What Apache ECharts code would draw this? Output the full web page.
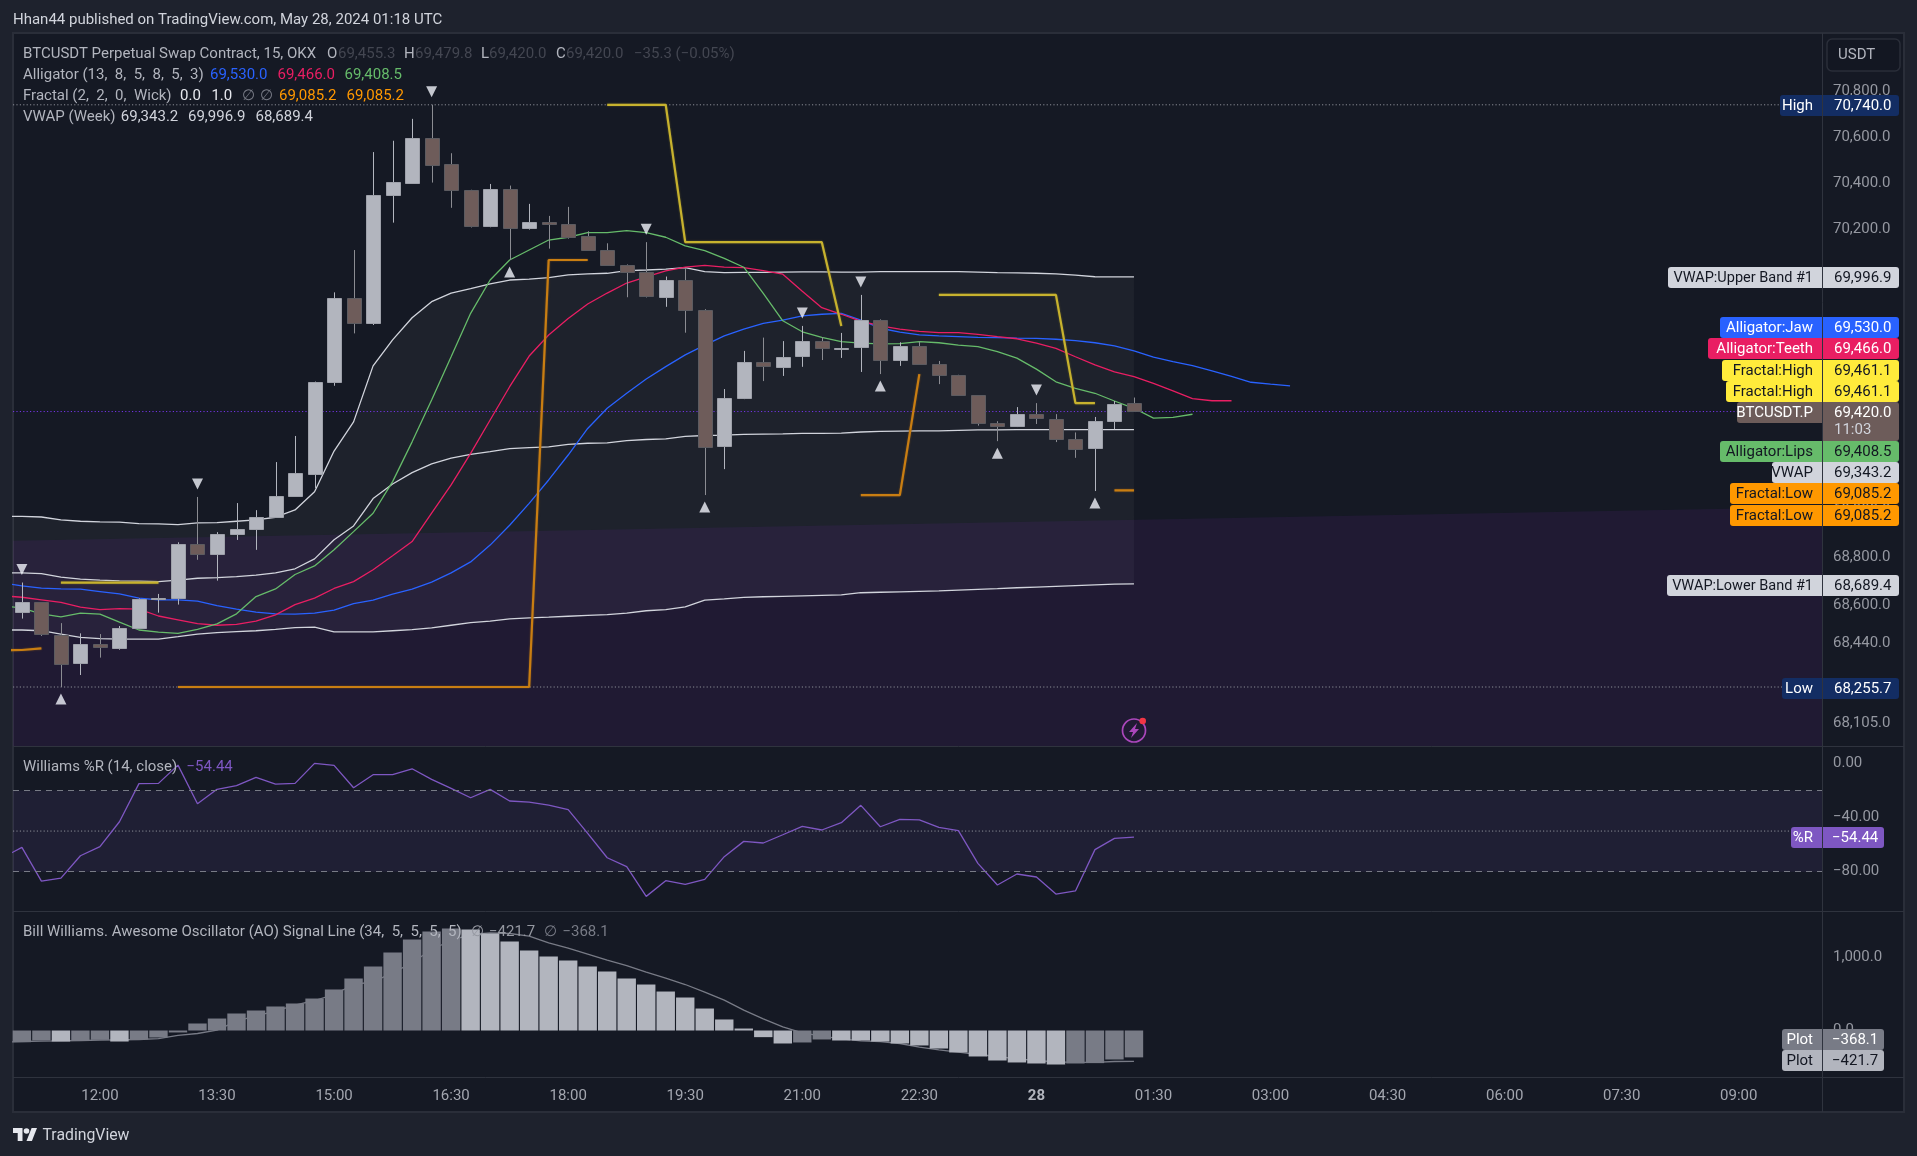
<!DOCTYPE html>
<html>
<head>
<meta charset="utf-8">
<title>BTCUSDT 15</title>
<style>
html, body { margin: 0; padding: 0; background: #1e222d; overflow: hidden; }
#main { width: 1917px; height: 1156px; }
</style>
<script src="https://cdn.jsdelivr.net/npm/echarts@6/dist/echarts.min.js"></script>
</head>
<body>
<div id="main"></div>
<script>
// bars are 15 minutes, time is minutes from 27 May 00:00
var firstBar = 660;
var barStep = 15;

var candleOpen = [68568,68612,68476,68355,68435,68421,68502,68628,68627,68857,68813,68898,68920,68970,69059,69155,69544,69904,69797,70348,70402,70595,70482,70370,70213,70374,70204,70232,70224,70171,70111,70046,70016,69911,69983,69856,69270,69475,69630,69611,69654,69720,69690,69693,69810,69637,69699,69622,69575,69489,69370,69356,69408,69389,69304,69262,69378,69455.3];
var candleClose = [68612,68477,68355,68435,68422,68503,68625,68630,68857,68813,68899,68920,68971,69060,69157,69545,69904,69797,70348,70404,70595,70480,70368,70213,70374,70204,70232,70222,70169,70111,70046,70016,69911,69983,69855,69270,69476,69630,69611,69652,69720,69688,69693,69810,69639,69699,69622,69575,69489,69370,69356,69408,69389,69304,69262,69378,69451,69420];
var candleHigh = [68695,68612,68524,68481,68478,68512,68628,68647,68865,69057,68908,69031,69001,69205,69316,69548,69930,70112,70535,70584,70679,70740,70530,70372,70397,70390,70311,70259,70298,70193,70141,70050,70146,69998,70033,69858,69516,69679,69736,69721,69786,69738,69756,69919,69814,69716,69719,69636,69577,69490,69379,69439,69456,69409,69331,69397,69465,69479.8];
var candleLow = [68543,68470,68255.7,68306,68379,68412,68500,68568,68602,68791,68703,68875,68833,68968,69058,69095,69530,69754,69790,70230,70400,70403,70294,70209,70210,70069,70200,70118,70161,70108,70044,69909,69908,69868,69757,69065,69175,69473,69550,69572,69611,69640,69649,69589,69580,69615,69620,69537,69487,69360,69294,69354,69367,69290,69223,69082,69344,69420];

// the indicator lists start one bar earlier, the one cut off by the left edge
var vwapUpper = [68975,68975,68972,68960,68954,68951,68950,68944,68943,68940,68947,68948,68954,68960,68971,69002,69079,69252,69376,69615,69726,69821,69890,69927,69946,69966,69983,69987,69993,70005,70009,70012,70023,70026,70030,70036,70019,70015,70016,70016,70017,70018,70018,70017,70017,70019,70019,70019,70019,70019,70017,70015,70014,70012,70009,70004,69997,69996.9,69996.9];
var vwapBasis = [68736,68736,68733,68718,68709,68705,68702,68701,68699,68705,68713,68716,68720,68726,68736,68753,68795,68876,68934,69050,69112,69160,69197,69222,69238,69249,69262,69266,69270,69280,69285,69287,69296,69301,69304,69314,69318,69320,69323,69324,69325,69327,69327,69328,69333,69336,69337,69338,69338,69340,69342,69342,69343,69343,69343,69343,69343,69343,69343.2];
var vwapLower = [68495,68495,68492,68478,68464,68459,68457,68457,68457,68467,68478,68484,68488,68492,68498,68505,68507,68487,68487,68487,68492,68497,68504,68515,68526,68532,68542,68546,68549,68553,68557,68560,68566,68576,68581,68592,68621,68626,68632,68635,68637,68639,68641,68643,68652,68654,68656,68658,68660,68663,68666,68669,68673,68676,68679,68682,68685,68688,68689.4];
var alligatorJaw = [68694,68681,68671,68668,68667,68657,68647,68629,68622,68622,68617,68598,68583,68570,68563,68562,68566,68579,68606,68621,68646,68667,68697,68736,68782,68853,68937,69030,69129,69235,69348,69434,69498,69559,69612,69662,69704,69743,69772,69797,69811,69829,69836,69840,69811,69776,69759,69748,69743,69740,69737,69736,69734,69733,69729,69723,69714,69701,69679,69652,69633,69616,69594,69570,69545,69537,69530];
var alligatorTeeth = [68639,68633,68622,68611,68591,68581,68585,68583,68554,68538,68522,68515,68519,68532,68559,68602,68629,68670,68699,68749,68808,68868,68988,69108,69242,69384,69526,69657,69747,69818,69880,69927,69970,69997,70022,70038,70046,70038,70036,70023,70008,69935,69864,69836,69807,69786,69772,69763,69757,69757,69750,69740,69731,69712,69690,69654,69619,69589,69569,69540,69508,69475,69466,69466];
var alligatorLips = [68597,68587,68563,68550,68566,68562,68528,68495,68486,68481,68498,68521,68563,68636,68668,68729,68765,68833,68910,68988,69122,69291,69469,69654,69840,69983,70069,70112,70155,70167,70187,70187,70196,70187,70167,70130,70109,70076,70038,69926,69808,69761,69737,69719,69712,69709,69710,69719,69714,69704,69697,69676,69648,69601,69547,69519,69498,69465,69434,69392,69395,69408.5];
var fractalHighLine = [null,null,null,68695,68695,68695,68695,68695,68695,null,null,null,null,null,null,null,null,null,null,null,null,null,null,null,null,null,null,null,null,null,null,70740,70740,70740,70740,70146,70146,70146,70146,70146,70146,70146,70146,69786,null,null,null,null,69919,69919,69919,69919,69919,69919,69919,69456,69456];
var fractalLowLine = [68410,68411,68418,null,null,null,null,null,null,68255.7,68255.7,68255.7,68255.7,68255.7,68255.7,68255.7,68255.7,68255.7,68255.7,68255.7,68255.7,68255.7,68255.7,68255.7,68255.7,68255.7,68255.7,68255.7,70069,70069,70069,null,null,null,null,null,null,null,null,null,null,null,null,null,69065,69065,69065,69580,null,null,null,null,null,null,null,null,null,69085.2,69085.2];
var fractalUpBars = [2,25,35,44,50,55];
var fractalDownBars = [0,9,21,32,40,43,52];

var williamsR = [-69.7,-62.0,-86.9,-84.7,-68.2,-61.5,-43.1,-15.0,-14.8,-1.3,-29.8,-19.2,-16.5,-10.4,-15.3,-14.8,0,-1.5,-18.0,-8.4,-8.4,-4.0,-11.8,-18.5,-25.4,-19.2,-27.8,-28.6,-30.8,-34.2,-51.7,-69.7,-76.3,-98.2,-86.6,-89.3,-85.6,-68.9,-57.6,-58.8,-52.7,-46.5,-49.2,-43.8,-31.0,-46.8,-41.4,-41.8,-47.3,-49.7,-73.8,-89.8,-81.7,-83.9,-96.5,-94.2,-63.7,-55.4,-54.44];
var aoValues = [-160,-137,-151,-132,-128,-151,-123,-96,-27,96,164,233,274,329,370,438,562,712,877,1068,1247,1356,1397,1384,1329,1219,1096,1014,959,877,808,712,630,534,452,301,151,27,-91,-178,-164,-123,-137,-137,-151,-178,-205,-247,-301,-356,-411,-438,-452,-466,-452,-447,-397,-368.1];
var aoSignal = [-160,-151,-146,-142,-137,-132,-128,-123,-110,-68,-41,5,128,201,265,347,411,493,630,667,790,927,1110,1233,1315,1338,1329,1292,1200,1128,1046,963,890,799,717,630,525,416,279,160,50,-32,-78,-114,-142,-151,-178,-228,-265,-297,-329,-356,-388,-411,-429,-438,-438,-425,-421.7];

var priceTicks = [70800,70600,70400,70200,70000,69600,69400,69200,69000,68800,68600,68440,68105];
var williamsTicks = [0,-40,-80];
var aoTicks = [0,1000];
var timeTickMinutes = [720,810,900,990,1080,1170,1260,1350,1440,1530,1620,1710,1800,1890,1980];
var timeTickLabels = ['12:00','13:30','15:00','16:30','18:00','19:30','21:00','22:30','28','01:30','03:00','04:30','06:00','07:30','09:00'];
var highValue = 70740;
var lowValue = 68255.7;
var closeValue = 69420;
var purpleZoneEdge = [68871,69014];

var tagNames = ['High','VWAP:Upper Band #1','Alligator:Jaw','Alligator:Teeth','Fractal:High','Fractal:High','BTCUSDT.P','Alligator:Lips','VWAP','Fractal:Low','Fractal:Low','VWAP:Lower Band #1','Low','%R','Plot','Plot'];
var tagValues = ['70,740.0','69,996.9','69,530.0','69,466.0','69,461.1','69,461.1','69,420.0','69,408.5','69,343.2','69,085.2','69,085.2','68,689.4','68,255.7','\u221254.44','\u2212368.1','\u2212421.7'];

// where the pieces sit on the page
var FONT = 'Roboto, "Noto Sans", sans-serif';
var FS = 15;
var LEFT = 13, RIGHT = 1822, WIDTH = RIGHT - LEFT;
var BAR_PX = 19.51;
var xMin = firstBar - 8.9 / BAR_PX * barStep;
var xMax = xMin + WIDTH / BAR_PX * barStep;
var DOTS = [1.2, 2.2];

var tagBoxes = [
    [1780,95,'#132d63','#ffffff'],[1668,267,'#d1d4dc','#131722'],[1720,317,'#2962ff','#ffffff'],[1708,338,'#e91e63','#ffffff'],
    [1722,360,'#ffeb3b','#131722'],[1726,381,'#ffeb3b','#131722'],[1737,402,'#6d5c5a','#ffffff'],[1720,441,'#66bb6a','#131722'],
    [1772,462,'#d1d4dc','#131722'],[1730,483,'#ff9800','#131722'],[1730,505,'#ff9800','#131722'],[1667,575,'#d1d4dc','#131722'],
    [1782,678,'#132d63','#ffffff'],[1791,827,'#7e57c2','#ffffff'],[1782,1029,'#787b86','#ffffff'],[1782,1050,'#b2b5be','#131722']
];

function barTime(i) { return firstBar + i * barStep; }
function withTimes(list) {
    // indicator lists begin at bar -1
    return list.map(function (v, k) { return [barTime(k - 1), v]; });
}
function fmtPrice(v) {
    return v.toFixed(1).replace(/\B(?=(\d{3})+(?!\d))/g, ',');
}

function lineSeries(name, grid, data, color, width, extra) {
    var s = {
        name: name, type: 'line', xAxisIndex: grid, yAxisIndex: grid, data: data,
        symbol: 'none', silent: true, connectNulls: false, z: 3,
        lineStyle: { color: color, width: width }
    };
    return Object.assign(s, extra || {});
}
function levelLine(name, grid, value, color) {
    return lineSeries(name, grid, [[xMin, value], [xMax, value]], color, 1, {
        z: 2, lineStyle: { color: color, width: 1, type: DOTS }
    });
}

var candleData = candleOpen.map(function (o, i) {
    return [barTime(i), o, candleClose[i], candleLow[i], candleHigh[i]];
});

function renderCandle(params, api) {
    var t = api.value(0), o = api.value(1), c = api.value(2);
    var x = Math.round(api.coord([t, o])[0]) + 0.5;
    var yo = api.coord([t, o])[1], yc = api.coord([t, c])[1];
    var yl = api.coord([t, api.value(3)])[1], yh = api.coord([t, api.value(4)])[1];
    var up = c >= o;
    var top = Math.round(Math.min(yo, yc)) + 0.5;
    var h = Math.max(Math.round(Math.abs(yo - yc)), 1);
    return {
        type: 'group',
        children: [{
            type: 'line',
            shape: { x1: x, y1: yh, x2: x, y2: yl },
            style: { stroke: up ? '#b2b5be' : '#8b8c92', lineWidth: 1 }
        }, {
            type: 'rect',
            shape: { x: x - 7, y: top, width: 14, height: h },
            style: { fill: up ? '#b2b5be' : '#6e5c5a', stroke: up ? '#9ea1aa' : '#5c5b60', lineWidth: 1 }
        }]
    };
}

function renderBand(params, api) {
    var pts = [];
    vwapUpper.forEach(function (v, k) { pts.push(api.coord([barTime(k - 1), v])); });
    for (var k = vwapLower.length - 1; k >= 0; k--) {
        pts.push(api.coord([barTime(k - 1), vwapLower[k]]));
    }
    return { type: 'polygon', shape: { points: pts }, style: { fill: 'rgba(255,255,255,0.04)' } };
}

function fractalMarks(bars, source, rotate, offset) {
    return {
        type: 'scatter', silent: true, z: 6, symbol: 'triangle', symbolRotate: rotate,
        symbolSize: [11, 11], symbolOffset: [0, offset],
        itemStyle: { color: '#f0f3fa' },
        data: bars.map(function (i) { return [barTime(i), source[i]]; })
    };
}

var series = [
    lineSeries('Zone', 0, [[xMin, purpleZoneEdge[0]], [xMax, purpleZoneEdge[1]]], 'transparent', 0, {
        z: 1, areaStyle: { color: 'rgba(140,45,210,0.09)', origin: 'start', opacity: 1 }
    }),
    {
        type: 'custom', name: 'VWAP band', silent: true, z: 1, clip: true,
        data: [[barTime(0), vwapUpper[0]]], renderItem: renderBand
    },
    levelLine('High', 0, highValue, '#8a8d96'),
    levelLine('Low', 0, lowValue, '#8a8d96'),
    levelLine('Close', 0, closeValue, '#7434e6'),
    lineSeries('VWAP Upper', 0, withTimes(vwapUpper), '#d1d4dc', 1.3),
    lineSeries('VWAP', 0, withTimes(vwapBasis), '#d1d4dc', 1.3),
    lineSeries('VWAP Lower', 0, withTimes(vwapLower), '#d1d4dc', 1.3),
    lineSeries('Jaw', 0, withTimes(alligatorJaw), '#2962ff', 1.3),
    lineSeries('Teeth', 0, withTimes(alligatorTeeth), '#e91e63', 1.3),
    lineSeries('Lips', 0, withTimes(alligatorLips), '#66bb6a', 1.3),
    lineSeries('Fractal High', 0, withTimes(fractalHighLine), '#c7b22e', 2.2, {
        lineStyle: { color: '#c7b22e', width: 2.2, shadowBlur: 2, shadowColor: 'rgba(120,110,40,0.8)' }
    }),
    lineSeries('Fractal Low', 0, withTimes(fractalLowLine), '#c97e12', 2.2, {
        lineStyle: { color: '#c97e12', width: 2.2, shadowBlur: 2, shadowColor: 'rgba(130,85,30,0.8)' }
    }),
    {
        type: 'custom', name: 'BTCUSDT', silent: true, z: 5, clip: true,
        encode: { x: 0, y: [1, 2, 3, 4] }, data: candleData, renderItem: renderCandle
    },
    fractalMarks(fractalDownBars, candleHigh, 180, -13),
    fractalMarks(fractalUpBars, candleLow, 0, 12),

    levelLine('-50', 1, -50, '#8a8d96'),
    lineSeries('Williams %R', 1, withTimes(williamsR), '#7e57c2', 1.3, {
        markArea: {
            silent: true, itemStyle: { color: 'rgba(126,87,194,0.1)' },
            data: [[{ yAxis: -20 }, { yAxis: -80 }]]
        },
        markLine: {
            silent: true, symbol: 'none', label: { show: false },
            lineStyle: { color: '#787b86', width: 1, type: [6, 5] },
            data: [{ yAxis: -20 }, { yAxis: -80 }]
        }
    }),

    lineSeries('AO Signal', 2, withTimes(aoSignal), '#787b86', 1.3, { z: 2 }),
    {
        type: 'bar', name: 'AO', silent: true, xAxisIndex: 2, yAxisIndex: 2, z: 4, barWidth: 18.4,
        data: aoValues.map(function (v, i) {
            var rising = i === 0 || v > aoValues[i - 1];
            return { value: [barTime(i), v], itemStyle: { color: rising ? '#787b86' : '#b2b5be' } };
        })
    }
];

function xAxisFor(grid, showLabels) {
    return {
        type: 'value', gridIndex: grid, min: xMin, max: xMax, position: 'bottom',
        axisLine: { show: false, onZero: false }, axisTick: { show: false }, splitLine: { show: false },
        axisLabel: {
            show: showLabels, customValues: timeTickMinutes, margin: 12, color: '#a3a6af',
            fontFamily: FONT, fontSize: FS, hideOverlap: false,
            formatter: function (v) {
                var s = timeTickLabels[timeTickMinutes.indexOf(v)];
                return s === '28' ? '{b|28}' : s;
            },
            rich: { b: { color: '#b2b5be', fontFamily: FONT, fontSize: FS, fontWeight: 'bold' } }
        }
    };
}
function yAxisFor(grid, type, min, max, ticks, formatter) {
    return {
        type: type, gridIndex: grid, min: min, max: max, position: 'right', scale: true,
        axisLine: { show: false }, axisTick: { show: false }, splitLine: { show: false },
        axisLabel: {
            customValues: ticks, margin: 11, color: '#9598a1', fontFamily: FONT, fontSize: FS,
            padding: [2, 0, 0, 0],
            align: 'left', formatter: formatter, hideOverlap: false, showMinLabel: true, showMaxLabel: true
        }
    };
}

// page furniture and tags
var gfx = [];
function txt(x, y, s, color, opts) {
    gfx.push({
        type: 'text', silent: true, z: 100,
        style: Object.assign({
            x: x, y: y + 0.7, text: s, fill: color, font: FS + 'px ' + FONT,
            textVerticalAlign: 'middle', textAlign: 'left'
        }, opts || {})
    });
}
function box(x, y, w, h, fill, z, r) {
    gfx.push({ type: 'rect', silent: true, z: z, shape: { x: x, y: y, width: w, height: h, r: r || 0 }, style: { fill: fill } });
}
function rule(x1, y1, x2, y2) {
    gfx.push({ type: 'line', silent: true, z: 60, shape: { x1: x1, y1: y1, x2: x2, y2: y2 }, style: { stroke: '#2f333e', lineWidth: 1 } });
}
function poly(points, fill) {
    gfx.push({ type: 'polygon', silent: true, z: 60, shape: { points: points }, style: { fill: fill } });
}

gfx.push({ type: 'rect', silent: true, z: -10, shape: { x: 13, y: 33, width: 1891, height: 1079 }, style: { fill: '#151924', stroke: '#2a2e39', lineWidth: 2 } });
rule(13, 746.5, 1904, 746.5);
rule(13, 911.5, 1904, 911.5);
rule(13, 1077.5, 1904, 1077.5);
rule(1822.5, 33, 1822.5, 1112);

txt(13, 20, 'Hhan44 published on TradingView.com, May 28, 2024 01:18 UTC', '#d1d4dc');

var DIM = '#434651', LBL = '#b2b5be';
txt(23, 54, 'BTCUSDT Perpetual Swap Contract, 15, OKX', LBL);
txt(327, 54, 'O', LBL); txt(338, 54, '69,455.3', DIM);
txt(404, 54, 'H', LBL); txt(415, 54, '69,479.8', DIM);
txt(481, 54, 'L', LBL); txt(489, 54, '69,420.0', DIM);
txt(556, 54, 'C', LBL); txt(566, 54, '69,420.0', DIM);
txt(634, 54, '\u221235.3 (\u22120.05%)', DIM);
txt(23, 75, 'Alligator (13,  8,  5,  8,  5,  3)', LBL);
txt(210, 75, '69,530.0', '#2962ff'); txt(277.5, 75, '69,466.0', '#e91e63'); txt(344.5, 75, '69,408.5', '#66bb6a');
txt(23, 96, 'Fractal (2,  2,  0,  Wick)', LBL);
txt(180, 96, '0.0', '#e6e8ee'); txt(211.4, 96, '1.0', '#e6e8ee');
txt(241.6, 96, '\u2205', '#787b86'); txt(260, 96, '\u2205', '#787b86');
txt(279, 96, '69,085.2', '#ff9800'); txt(346.5, 96, '69,085.2', '#ff9800');
txt(23, 117, 'VWAP (Week)', LBL);
txt(120.8, 117, '69,343.2', '#d1d4dc'); txt(188, 117, '69,996.9', '#d1d4dc'); txt(255.5, 117, '68,689.4', '#d1d4dc');
txt(23, 767, 'Williams %R (14, close)', LBL);
txt(186.5, 767, '\u221254.44', '#7e57c2');
txt(23, 932, 'Bill Williams. Awesome Oscillator (AO) Signal Line (34,  5,  5,  5,  5)', LBL);
txt(471, 932, '\u2205', '#9598a1'); txt(489, 932, '\u2212421.7', '#9598a1');
txt(543.7, 932, '\u2205', '#787b86'); txt(562.4, 932, '\u2212368.1', '#787b86');

// currency button
gfx.push({ type: 'rect', silent: true, z: 60, shape: { x: 1827, y: 39, width: 73, height: 32, r: 5 }, style: { fill: '#131722', stroke: '#2a2e39', lineWidth: 1.5 } });
txt(1838, 55, 'USDT', '#b2b5be');

// price tags
tagNames.forEach(function (name, i) {
    var b = tagBoxes[i];
    var y = b[1], lowerPane = i >= 13;
    var valueRight = lowerPane ? 1884 : 1899;
    box(b[0], y, 1822 - b[0], 21, b[2], 70, [3, 0, 0, 3]);
    box(1823, y, valueRight - 1823, i === 6 ? 39 : 21, b[2], 70, [0, 3, 3, 0]);
    txt(1813, y + 10.5, name, b[3], { textAlign: 'right', font: (name.length > 15 ? 14.5 : FS) + 'px ' + FONT });
    txt(i >= 13 ? 1832 : 1834, y + 10.5, tagValues[i], b[3]);
});
txt(1834, 430, '11:03', '#d1d4dc');

// bolt icon on the last bar
gfx.push({ type: 'circle', silent: true, z: 60, shape: { cx: 1134, cy: 730.5, r: 11.5 }, style: { fill: 'none', stroke: '#ab47bc', lineWidth: 1.7 } });
poly([[1137, 723], [1129, 732], [1133, 732], [1131, 738], [1139, 729], [1135, 729]], '#ab47bc');
gfx.push({ type: 'circle', silent: true, z: 61, shape: { cx: 1142.7, cy: 721, r: 3.3 }, style: { fill: '#f23645' } });

// TradingView mark
poly([[13, 1128], [22.5, 1128], [22.5, 1141], [17.7, 1141], [17.7, 1133], [13, 1133]], '#e6e8ee');
poly([[26.5, 1141], [31.9, 1141], [37, 1128], [31.6, 1128]], '#e6e8ee');
gfx.push({ type: 'circle', silent: true, z: 60, shape: { cx: 26.5, cy: 1131, r: 2.8 }, style: { fill: '#e6e8ee' } });
txt(42.5, 1135, 'TradingView', '#d1d4dc', { font: '15.8px ' + FONT });

var option = {
    animation: false,
    backgroundColor: '#1e222d',
    grid: [
        { left: LEFT, width: WIDTH, top: 33, height: 713 },
        { left: LEFT, width: WIDTH, top: 746, height: 165 },
        { left: LEFT, width: WIDTH, top: 911, height: 166 }
    ],
    xAxis: [xAxisFor(0, false), xAxisFor(1, false), xAxisFor(2, true)],
    yAxis: [
        yAxisFor(0, 'log', 68008.9, 71052.6, priceTicks, fmtPrice),
        yAxisFor(1, 'value', -109, 12.8, williamsTicks, function (v) { return v.toFixed(2).replace('-', '\u2212'); }),
        yAxisFor(2, 'value', -637, 1637, aoTicks, fmtPrice)
    ],
    series: series,
    graphic: gfx
};

var chart = echarts.init(document.getElementById('main'), null, { width: 1917, height: 1156, renderer: 'canvas' });
chart.setOption(option);
</script>
</body>
</html>
